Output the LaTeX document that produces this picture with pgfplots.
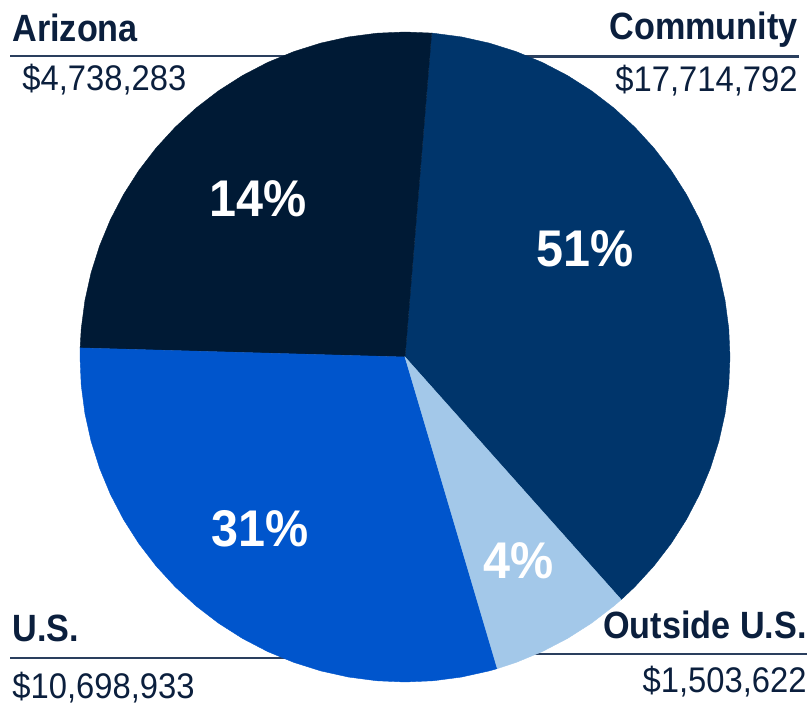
\documentclass[border=0pt]{standalone}
\usepackage{pgfplots}
\pgfplotsset{compat=1.18}
\usepackage{fontspec}
\setmainfont{Liberation Sans}
\newfontfamily\headfont[FakeStretch=0.9]{Liberation Sans Bold}
\newfontfamily\numfont[FakeStretch=0.92]{Liberation Sans}
\newfontfamily\pctfont[FakeStretch=0.94]{Liberation Sans Bold}
\definecolor{cAriz}{HTML}{001A35}
\definecolor{cComm}{HTML}{00356B}
\definecolor{cUS}{HTML}{0055CC}
\definecolor{cOut}{HTML}{A3C8E9}
\definecolor{cText}{HTML}{0B1F3D}
\definecolor{cRule}{HTML}{2A3F5E}
\begin{document}
\begin{tikzpicture}
% ---- pixel-space axis: rules ----
\begin{axis}[name=px, hide axis, scale only axis, width=403.5bp, height=352.5bp,
  xmin=0, xmax=807, ymin=0, ymax=705, clip=false]
\addplot[cRule, line width=1.1bp] coordinates {(10,649) (400,649)};
\addplot[cRule, line width=1.1bp] coordinates {(410,648.5) (799,648.5)};
\addplot[cRule, line width=1.1bp] coordinates {(10,47) (400,47)};
\addplot[cRule, line width=1.1bp] coordinates {(410,51) (807,51)};
\end{axis}
% ---- pie axis: unit radius, centre at pixel (405,357) ----
\begin{axis}[hide axis, scale only axis, width=403.5bp, height=352.5bp,
  xmin=-1.246154, xmax=1.236923, ymin=-1.070769, ymax=1.098462, clip=false]
% Community
\addplot[fill=cComm, draw=cComm, line width=0.2bp] coordinates {
 (0,0) (0.66523,-0.74664) (0.70711,-0.70711) (0.76604,-0.64279) (0.81915,-0.57358)
 (0.86603,-0.5) (0.90631,-0.42262) (0.93969,-0.34202) (0.96593,-0.25882)
 (0.98481,-0.17365) (0.99619,-0.08716) (1,0) (0.99619,0.08716) (0.98481,0.17365)
 (0.96593,0.25882) (0.93969,0.34202) (0.90631,0.42262) (0.86603,0.5)
 (0.81915,0.57358) (0.76604,0.64279) (0.70711,0.70711) (0.64279,0.76604)
 (0.57358,0.81915) (0.5,0.86603) (0.42262,0.90631) (0.34202,0.93969)
 (0.25882,0.96593) (0.17365,0.98481) (0.08716,0.99619) (0.08194,0.99664) (0,0)} \closedcycle;
% Arizona
\addplot[fill=cAriz, draw=cAriz, line width=0.2bp] coordinates {
 (0,0) (0.08194,0.99664) (0,1) (-0.08716,0.99619) (-0.17365,0.98481) (-0.25882,0.96593)
 (-0.34202,0.93969) (-0.42262,0.90631) (-0.5,0.86603) (-0.57358,0.81915)
 (-0.64279,0.76604) (-0.70711,0.70711) (-0.76604,0.64279) (-0.81915,0.57358)
 (-0.86603,0.5) (-0.90631,0.42262) (-0.93969,0.34202) (-0.96593,0.25882)
 (-0.98481,0.17365) (-0.99619,0.08716) (-0.99961,0.02792) (0,0)} \closedcycle;
% U.S.
\addplot[fill=cUS, draw=cUS, line width=0.2bp] coordinates {
 (0,0) (-0.99961,0.02792) (-1,0) (-0.99619,-0.08716) (-0.98481,-0.17365)
 (-0.96593,-0.25882) (-0.93969,-0.34202) (-0.90631,-0.42262) (-0.86603,-0.5)
 (-0.81915,-0.57358) (-0.76604,-0.64279) (-0.70711,-0.70711) (-0.64279,-0.76604)
 (-0.57358,-0.81915) (-0.5,-0.86603) (-0.42262,-0.90631) (-0.34202,-0.93969)
 (-0.25882,-0.96593) (-0.17365,-0.98481) (-0.08716,-0.99619) (0,-1)
 (0.08716,-0.99619) (0.17365,-0.98481) (0.25882,-0.96593) (0.28402,-0.95882) (0,0)} \closedcycle;
% Outside U.S.
\addplot[fill=cOut, draw=cOut, line width=0.2bp] coordinates {
 (0,0) (0.28402,-0.95882) (0.34202,-0.93969) (0.42262,-0.90631) (0.5,-0.86603)
 (0.57358,-0.81915) (0.64279,-0.76604) (0.66523,-0.74664) (0,0)} \closedcycle;
\node[text=white, anchor=center, font=\pctfont\fontsize{25.8bp}{30bp}\selectfont] at (axis cs:-0.4508,0.4877) {14\%};
\node[text=white, anchor=center, font=\pctfont\fontsize{25.8bp}{30bp}\selectfont] at (axis cs:0.5554,0.3323) {51\%};
\node[text=white, anchor=center, font=\pctfont\fontsize{25.8bp}{30bp}\selectfont] at (axis cs:-0.4446,-0.5277) {31\%};
\node[text=white, anchor=center, font=\pctfont\fontsize{25.8bp}{30bp}\selectfont] at (axis cs:0.3508,-0.6262) {4\%};
\end{axis}
% ---- text labels (pixel axis again) ----
\begin{axis}[hide axis, scale only axis, width=403.5bp, height=352.5bp,
  xmin=0, xmax=807, ymin=0, ymax=705, clip=false]
\addplot[draw=none] coordinates {(0,0) (807,705)};
\node[text=cText, anchor=base west, inner sep=0pt, font=\headfont\fontsize{19bp}{22bp}\selectfont] at (axis cs:12,663) {Arizona};
\node[text=cText, anchor=base west, inner sep=0pt, font=\numfont\fontsize{17.8bp}{20bp}\selectfont] at (axis cs:22,614) {\$4,738,283};
\node[text=cText, anchor=base east, inner sep=0pt, font=\headfont\fontsize{19bp}{22bp}\selectfont] at (axis cs:798,665) {Community};
\node[text=cText, anchor=base east, inner sep=0pt, font=\numfont\fontsize{17.8bp}{20bp}\selectfont] at (axis cs:798,613) {\$17,714,792};
\node[text=cText, anchor=base west, inner sep=0pt, font=\headfont\fontsize{19bp}{22bp}\selectfont] at (axis cs:12,63) {U.S.};
\node[text=cText, anchor=base west, inner sep=0pt, font=\numfont\fontsize{17.8bp}{20bp}\selectfont] at (axis cs:12,7) {\$10,698,933};
\node[text=cText, anchor=base east, inner sep=0pt, font=\headfont\fontsize{19bp}{22bp}\selectfont] at (axis cs:807,66) {Outside U.S.};
\node[text=cText, anchor=base east, inner sep=0pt, font=\numfont\fontsize{17.8bp}{20bp}\selectfont] at (axis cs:807,13) {\$1,503,622};
\end{axis}
\pgfresetboundingbox
\useasboundingbox (px.south west) rectangle (px.north east);
\end{tikzpicture}
\end{document}
